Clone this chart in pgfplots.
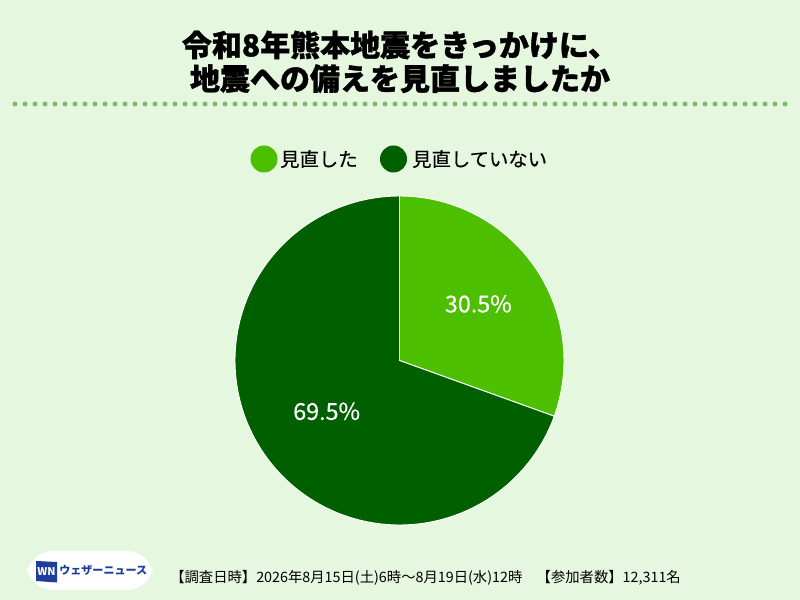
\documentclass[border=0pt]{standalone}
\usepackage{fontspec}
\usepackage{pgfplots}
\pgfplotsset{compat=1.18}
\usepgfplotslibrary{polar}
\setmainfont{Noto Sans CJK JP}
\definecolor{bg}{HTML}{E5F7DE}
\definecolor{lg}{HTML}{4CBF00}
\definecolor{dg}{HTML}{006000}
\definecolor{dotc}{HTML}{7CBD6B}
\definecolor{wnblue}{HTML}{1E3E9C}
\def\vA{30.5}
\def\vB{69.5}
\newcommand\titlefont{\bfseries\addfontfeatures{FakeBold=1.2}\fontsize{22.5}{24}\selectfont}
\begin{document}
\begin{tikzpicture}[x=0.75pt,y=0.75pt]
\fill[bg] (0,0) rectangle (800,600);
\useasboundingbox (0,0) rectangle (800,600);
% title
\node[anchor=base, font=\titlefont, inner sep=0] at (400,543.6) {令和8年熊本地震をきっかけに、};
\node[anchor=base, font=\titlefont, inner sep=0] at (400,510) {地震への備えを見直しましたか};
% dotted rule
\foreach \i in {0,...,77} \fill[dotc] (15+10*\i,496) circle (2.5);
% legend
\fill[lg] (264,441) circle (13.5);
\node[anchor=base west, font=\addfontfeatures{FakeBold=0.4}\fontsize{14.5}{16}\selectfont, inner sep=0] at (280,433.6) {見直した};
\fill[dg] (393.5,441) circle (13.5);
\node[anchor=base west, font=\addfontfeatures{FakeBold=0.4}\fontsize{14.5}{16}\selectfont, inner sep=0] at (412,433.6) {見直していない};
% pie
\pgfmathsetmacro\aEnd{90-3.6*\vA}
\begin{polaraxis}[
  at={(299.625pt,179.625pt)}, anchor=center,
  scale only axis, width=246.75pt, height=246.75pt,
  hide axis, xtick=\empty, ytick=\empty, grid=none,
  axis line style={draw=none},
  ymin=0, ymax=1, clip=false,
]
\addplot[fill=lg, draw=white, line width=0.7pt, domain=\aEnd:90, samples=120, mark=none] {1} -- (axis cs:0,0) -- cycle;
\addplot[fill=dg, draw=white, line width=0.7pt, domain=-270:\aEnd, samples=240, mark=none] {1} -- (axis cs:0,0) -- cycle;
\node[text=white, font=\addfontfeatures{FakeBold=0.3}\fontsize{17.5}{18}\selectfont] at (axis cs:35.7,0.59) {\vA\%};
\node[text=white, font=\addfontfeatures{FakeBold=0.3}\fontsize{17.5}{18}\selectfont] at (axis cs:-145.1,0.54) {\vB\%};
\end{polaraxis}
% footer logo
\fill[white, rounded corners=19.5] (27,10) rectangle (153,49);
\fill[wnblue] (36,19) -- (57,17.5) -- (57,38) -- (36,39) -- cycle;
\node[text=white, font=\bfseries\itshape\fontsize{8}{8}\selectfont, inner sep=0] at (46.5,28.5) {WN};
\node[anchor=base west, text=wnblue, font=\bfseries\fontsize{8.3}{9}\selectfont, inner sep=0] at (59,25.5) {ウェザーニュース};
% footer text
\node[anchor=base west, font=\fontsize{10.75}{12}\selectfont, inner sep=0] at (170,17.5) {【調査日時】2026年8月15日(土)6時～8月19日(水)12時　【参加者数】12,311名};
\end{tikzpicture}
\end{document}
